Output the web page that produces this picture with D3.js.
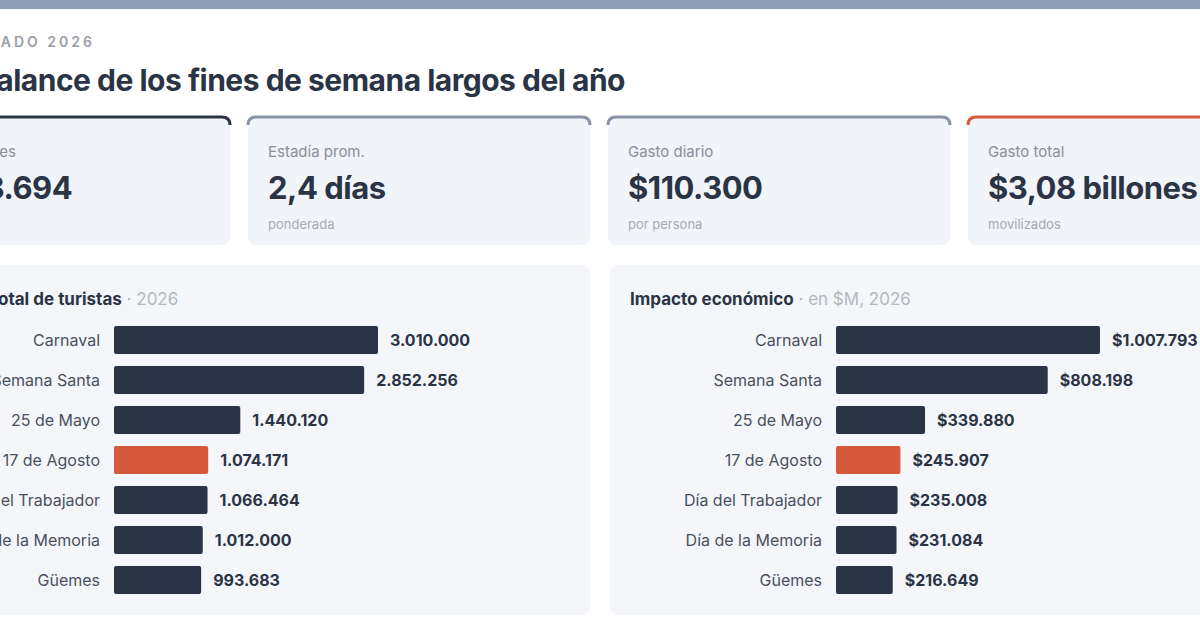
<!DOCTYPE html>
<html><head><meta charset="utf-8">
<script src="https://cdn.jsdelivr.net/npm/d3@7"></script>
<style>body{margin:0;background:#fff;overflow:hidden}svg{display:block;font-family:Inter,"Noto Sans",sans-serif}</style>
</head><body><div id="chart"></div>
<script>
// Data
var feriados = ["Carnaval","Semana Santa","25 de Mayo","17 de Agosto","Día del Trabajador","Día de la Memoria","Güemes"];
var turistas = [3010000,2852256,1440120,1074171,1066464,1012000,993683];
var impacto = [1007793,808198,339880,245907,235008,231084,216649];
var destacado = "17 de Agosto";
var kpiLabels = ["Turistas totales","Estadía prom.","Gasto diario","Gasto total"];
var kpiValues = ["11.448.694","2,4 días","$110.300","$3,08 billones"];
var kpiSubs = ["turistas","ponderada","por persona","movilizados"];
var kpiColors = ["#2b3445","#8a94a6","#8a94a6","#d9583b"];

var W = 1200, H = 630, dark = "#2b3445", accent = "#d4593d";
var fmt = d3.formatLocale({decimal:",",thousands:".",grouping:[3],currency:["$",""]}).format(",d");

var svg = d3.select("#chart").append("svg").attr("width", W).attr("height", H);

// Top strip
svg.append("rect").attr("width", W).attr("height", 9).attr("fill", "#8d9db8");

svg.append("text").attr("x", 95).attr("y", 47).attr("text-anchor", "end")
  .attr("font-size", 14).attr("font-weight", 600).attr("letter-spacing", 3).attr("fill", "#9a9ea6")
  .text("TURISMO · FERIADO 2026");
svg.append("text").attr("x", 625).attr("y", 91).attr("text-anchor", "end")
  .attr("font-size", 30).attr("font-weight", 700).attr("fill", dark).attr("letter-spacing", -0.5)
  .text("Balance de los fines de semana largos del año");

// KPI cards
var cw = 342, gap = 18, cx0 = -112;
var cards = svg.selectAll(".kpi").data(kpiLabels).enter().append("g")
  .attr("transform", function(d, i) { return "translate(" + (cx0 + i * (cw + gap)) + ",117)"; });
cards.append("rect").attr("width", cw).attr("height", 128).attr("rx", 8).attr("fill", "#f1f4f8");
cards.append("path").attr("d", "M0,8 Q0,0 8,0 L" + (cw - 8) + ",0 Q" + cw + ",0 " + cw + ",8")
  .attr("fill", "none").attr("stroke", function(d, i) { return kpiColors[i]; }).attr("stroke-width", 3);
cards.append("text").attr("x", 20).attr("y", 40).attr("font-size", 15).attr("fill", "#8a8f99").text(function(d) { return d; });
cards.append("text").attr("x", 20).attr("y", 82).attr("font-size", 31).attr("font-weight", 700).attr("fill", dark)
  .attr("letter-spacing", -0.5).text(function(d, i) { return kpiValues[i]; });
cards.append("text").attr("x", 20).attr("y", 112).attr("font-size", 13).attr("fill", "#a6aab2").text(function(d, i) { return kpiSubs[i]; });

// Bar panels
function panel(px, title, sub, values, labelEnd, prefix) {
  var g = svg.append("g");
  g.append("rect").attr("x", px).attr("y", 265).attr("width", 702).attr("height", 350).attr("rx", 8).attr("fill", "#f4f6f9");
  var t = g.append("text").attr("x", px === 610 ? 630 : -12).attr("y", 305).attr("font-size", 17);
  t.append("tspan").attr("font-weight", 700).attr("fill", dark).text(title);
  t.append("tspan").attr("fill", "#b4b8bf").text(" · " + sub);

  var x = d3.scaleLinear().domain([0, values[0]]).range([0, 264]);
  var y = d3.scaleBand().domain(feriados).range([320, 600]).paddingInner(0.3).paddingOuter(0.15);
  var x0 = labelEnd + 14;

  g.selectAll(".lbl").data(feriados).enter().append("text")
    .attr("x", labelEnd).attr("y", function(d) { return y(d) + y.bandwidth() / 2; }).attr("dy", "0.35em")
    .attr("text-anchor", "end").attr("font-size", 16).attr("fill", "#4a5060").text(function(d) { return d; });
  g.selectAll(".bar").data(values).enter().append("rect")
    .attr("x", x0).attr("y", function(d, i) { return y(feriados[i]); })
    .attr("width", function(d) { return x(d); }).attr("height", y.bandwidth()).attr("rx", 2)
    .attr("fill", function(d, i) { return feriados[i] === destacado ? accent : dark; });
  g.selectAll(".val").data(values).enter().append("text")
    .attr("x", function(d) { return x0 + x(d) + 12; })
    .attr("y", function(d, i) { return y(feriados[i]) + y.bandwidth() / 2; }).attr("dy", "0.35em")
    .attr("font-size", 16).attr("font-weight", 700).attr("fill", dark)
    .text(function(d) { return prefix + fmt(d); });
}
panel(-112, "Total de turistas", "2026", turistas, 100, "");
panel(610, "Impacto económico", "en $M, 2026", impacto, 822, "$");
</script></body></html>
